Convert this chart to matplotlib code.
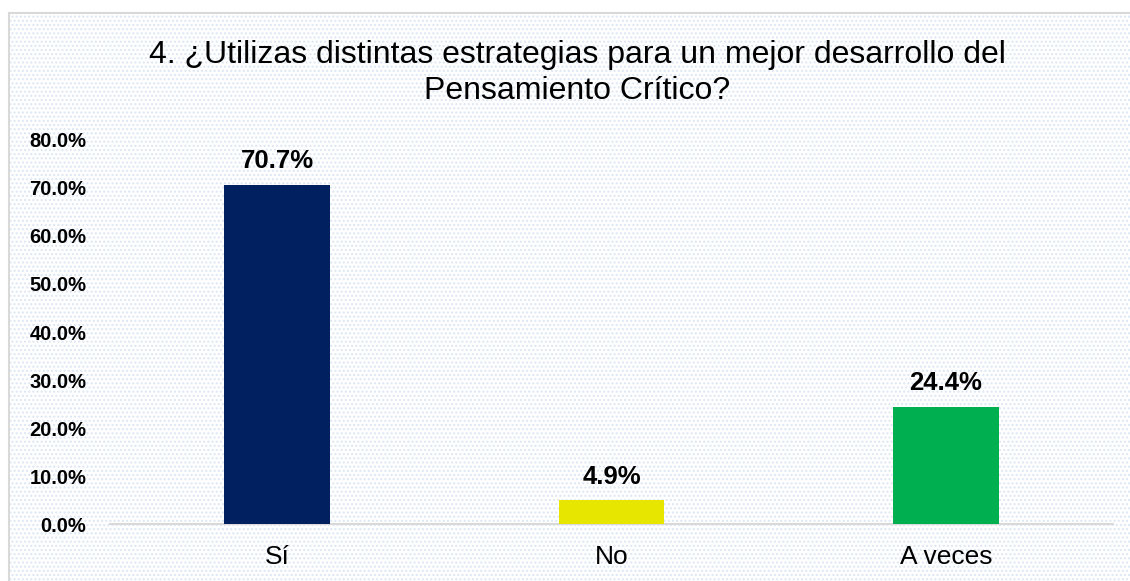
import matplotlib.pyplot as plt
from matplotlib.patches import Rectangle
from matplotlib.ticker import FuncFormatter

categories = ["Sí", "No", "A veces"]
values = [70.7, 4.9, 24.4]
colors = ["#002060", "#E6E600", "#00B050"]
yticks = [0, 10, 20, 30, 40, 50, 60, 70, 80]

plt.rcParams['font.family'] = ['Liberation Sans', 'DejaVu Sans']

W, H = 1130, 581
fig = plt.figure(figsize=(W / 100, H / 100), dpi=100)
fig.patch.set_facecolor("white")

# chart area with the light dotted fill and grey border
bg = Rectangle((9 / W, -0.05), 1.2, 1 - 13 / H + 0.05, transform=fig.transFigure,
               facecolor="white", edgecolor="#dce7f4", hatch="....", linewidth=0, zorder=-2)
fig.patches.append(bg)
border = Rectangle((9 / W, -0.05), 1.2, 1 - 13 / H + 0.05, transform=fig.transFigure,
                   facecolor="none", edgecolor="#d9d9d9", linewidth=1.5, zorder=-1)
fig.patches.append(border)

ax = fig.add_axes([110 / W, 57 / H, 1003 / W, 384 / H])
ax.set_facecolor("none")

x = range(len(categories))
bars = ax.bar(x, values, width=0.317, color=colors, zorder=3)
for b, v in zip(bars, values):
    ax.annotate(f"{v:.1f}%", (b.get_x() + b.get_width() / 2, v),
                xytext=(0, 12), textcoords="offset points",
                ha="center", va="baseline", fontsize=18.5, fontweight="bold")

ax.set_xlim(-0.5, len(categories) - 0.5)
ax.set_ylim(0, 80)
ax.set_yticks(yticks)
ax.yaxis.set_major_formatter(FuncFormatter(lambda v, p: f"{v:.1f}%"))
ax.set_xticks(list(x))
ax.set_xticklabels(categories, fontsize=19)
for lab in ax.get_yticklabels():
    lab.set_fontweight("bold")
    lab.set_fontsize(14.5)

ax.tick_params(axis="y", length=0, pad=17)
ax.tick_params(axis="x", length=0, pad=15)
for s in ["top", "right", "left"]:
    ax.spines[s].set_visible(False)
ax.spines["bottom"].set_color("#d9d9d9")
ax.spines["bottom"].set_linewidth(1.5)

fig.text(577 / W, 1 - 63 / H, "4. ¿Utilizas distintas estrategias para un mejor desarrollo del",
         ha="center", va="baseline", fontsize=23)
fig.text(577 / W, 1 - 99 / H, "Pensamiento Crítico?",
         ha="center", va="baseline", fontsize=23)

fig.savefig("out.png", dpi=100)
